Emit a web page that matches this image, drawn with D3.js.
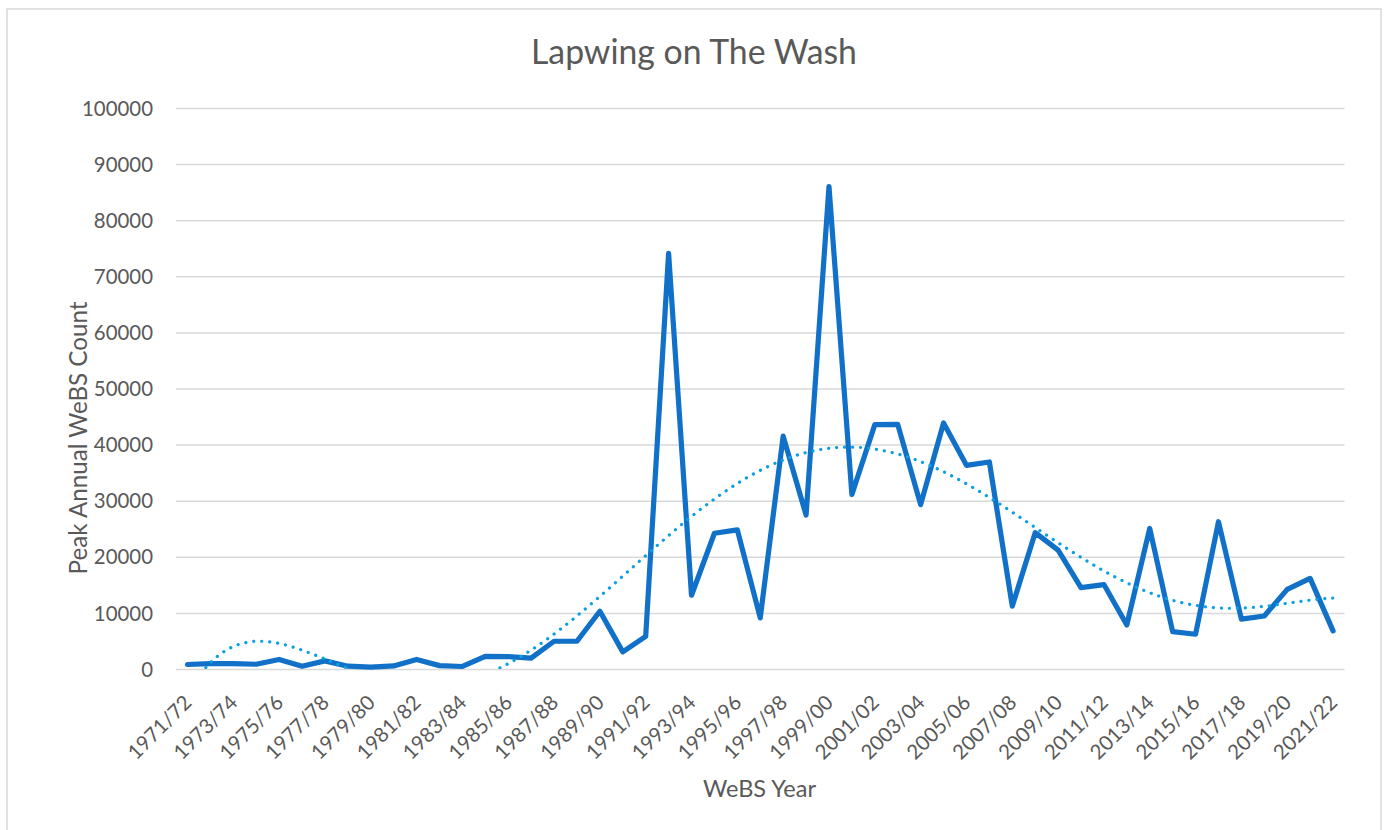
<!DOCTYPE html>
<html><head><meta charset="utf-8">
<script src="https://cdn.jsdelivr.net/npm/d3@7"></script>
<style>
body{margin:0;background:#fff}
svg{display:block}
text{font-family:Lato,"Open Sans",sans-serif;fill:#595959}
</style>
</head><body>
<svg id="chart" width="1387" height="830"></svg>
<script>
const chartTitle = "Lapwing on The Wash";
const xAxisTitle = "WeBS Year";
const yAxisTitle = "Peak Annual WeBS Count";

const seasons = ["1971/72","1972/73","1973/74","1974/75","1975/76","1976/77","1977/78","1978/79","1979/80","1980/81",
  "1981/82","1982/83","1983/84","1984/85","1985/86","1986/87","1987/88","1988/89","1989/90","1990/91",
  "1991/92","1992/93","1993/94","1994/95","1995/96","1996/97","1997/98","1998/99","1999/00","2000/01",
  "2001/02","2002/03","2003/04","2004/05","2005/06","2006/07","2007/08","2008/09","2009/10","2010/11",
  "2011/12","2012/13","2013/14","2014/15","2015/16","2016/17","2017/18","2018/19","2019/20","2020/21","2021/22"];

const peakCounts = [800,950,950,850,1700,500,1450,500,350,550,
  1700,600,450,2250,2200,1950,4950,4950,10300,3050,
  5800,74100,13150,24200,24800,9100,41500,27450,86000,31100,
  43550,43600,29300,43850,36300,36900,11200,24300,21200,14500,
  15050,7850,25050,6650,6200,26250,8900,9450,14200,16150,6800];

const xTickLabels = seasons.filter((d,i)=>i%2===0);
const yTickValues = [0,10000,20000,30000,40000,50000,60000,70000,80000,90000,100000];
const trendOrder = 6;

const svg = d3.select("#chart");
const W = 1387, H = 830;
const plot = {left:176, right:1344.5, top:108, bottom:669};

svg.append("rect").attr("x",7).attr("y",9).attr("width",1374).attr("height",850)
  .attr("fill","#fff").attr("stroke","#d9d9d9").attr("stroke-width",1.5);

const x = d3.scaleBand().domain(seasons).range([plot.left, plot.right]).padding(0);
const cx = d => x(d) + x.bandwidth()/2;
const y = d3.scaleLinear().domain([0,100000]).range([plot.bottom, plot.top]);

function fitFont(sel, target){
  sel.style("font-size","100px");
  const w = sel.node().getComputedTextLength();
  const fs = 100*target/w;
  sel.style("font-size", fs+"px");
  return fs;
}

// measure tick font size
const probe = svg.append("text").text("100000");
const tickFs = fitFont(probe, 71);
probe.remove();

// gridlines
const yAxis = d3.axisLeft(y).tickValues(yTickValues).tickSize(-(plot.right-plot.left)).tickPadding(23).tickFormat(d3.format("d"));
const gy = svg.append("g").attr("transform",`translate(${plot.left},0)`).call(yAxis);
gy.select(".domain").remove();
gy.selectAll(".tick line").attr("stroke","#d9d9d9").attr("stroke-width",1.5);
gy.selectAll(".tick text").attr("fill","#595959").style("font-family","Lato").style("font-size",tickFs+"px").attr("dy","0.35em");

// x axis labels
const xAxis = d3.axisBottom(x).tickValues(xTickLabels).tickSize(0).tickPadding(0);
const gx = svg.append("g").attr("transform",`translate(0,${plot.bottom})`).call(xAxis);
gx.select(".domain").remove();
gx.selectAll(".tick text")
  .attr("fill","#595959").style("font-family","Lato").style("font-size",tickFs+"px")
  .attr("text-anchor","end").attr("y",0).attr("dy",0)
  .attr("transform","translate(5.5,35) rotate(-45)");

// trendline (polynomial least squares, order 6, x = 1..n as in Excel)
function polyfit(xs, ys, order){
  const mid = (xs[0]+xs[xs.length-1])/2, half = (xs[xs.length-1]-xs[0])/2;
  const n = order+1;
  const A = Array.from({length:n},()=>new Array(n).fill(0));
  const b = new Array(n).fill(0);
  xs.forEach((xv,k)=>{
    const t = (xv-mid)/half;
    const p = [];
    for(let i=0;i<n;i++) p.push(Math.pow(t,i));
    for(let i=0;i<n;i++){ b[i]+=p[i]*ys[k]; for(let j=0;j<n;j++) A[i][j]+=p[i]*p[j]; }
  });
  for(let c=0;c<n;c++){
    let piv=c; for(let r=c+1;r<n;r++) if(Math.abs(A[r][c])>Math.abs(A[piv][c])) piv=r;
    [A[c],A[piv]]=[A[piv],A[c]]; [b[c],b[piv]]=[b[piv],b[c]];
    for(let r=c+1;r<n;r++){ const f=A[r][c]/A[c][c]; for(let j=c;j<n;j++) A[r][j]-=f*A[c][j]; b[r]-=f*b[c]; }
  }
  const coef = new Array(n).fill(0);
  for(let r=n-1;r>=0;r--){ let s=b[r]; for(let j=r+1;j<n;j++) s-=A[r][j]*coef[j]; coef[r]=s/A[r][r]; }
  return xv => { const t=(xv-mid)/half; let s=0; for(let i=n-1;i>=0;i--) s=s*t+coef[i]; return s; };
}
const xsIdx = seasons.map((d,i)=>i+1);
const trend = polyfit(xsIdx, peakCounts, trendOrder);
const xi = d3.scaleLinear().domain([1, seasons.length]).range([cx(seasons[0]), cx(seasons[seasons.length-1])]);
const trendPts = d3.range(1, seasons.length+0.0001, 0.05).map(v=>[xi(v), y(trend(v))]);

svg.append("clipPath").attr("id","plotclip").append("rect")
  .attr("x",plot.left).attr("y",plot.top-2).attr("width",plot.right-plot.left).attr("height",plot.bottom-plot.top+2);

// data line
svg.append("path").datum(peakCounts)
  .attr("fill","none").attr("stroke","#1170c7").attr("stroke-width",5.2)
  .attr("stroke-linejoin","round").attr("stroke-linecap","round")
  .attr("d", d3.line().x((d,i)=>cx(seasons[i])).y(d=>y(d)));

svg.append("path").datum(trendPts)
  .attr("clip-path","url(#plotclip)")
  .attr("fill","none").attr("stroke","#0aa0e2").attr("stroke-width",3.2)
  .attr("stroke-linecap","round").attr("stroke-dasharray","0.1 7.9")
  .attr("d", d3.line());

// titles
const t = svg.append("text").attr("x",694).attr("y",64).attr("text-anchor","middle").text(chartTitle);
fitFont(t, 326);
const xt = svg.append("text").attr("x",759.5).attr("y",797).attr("text-anchor","middle").text(xAxisTitle);
fitFont(xt, 113);
const yt = svg.append("text").attr("text-anchor","middle").attr("transform","translate(87,438) rotate(-90)").text(yAxisTitle);
fitFont(yt, 273);
</script>
</body></html>
